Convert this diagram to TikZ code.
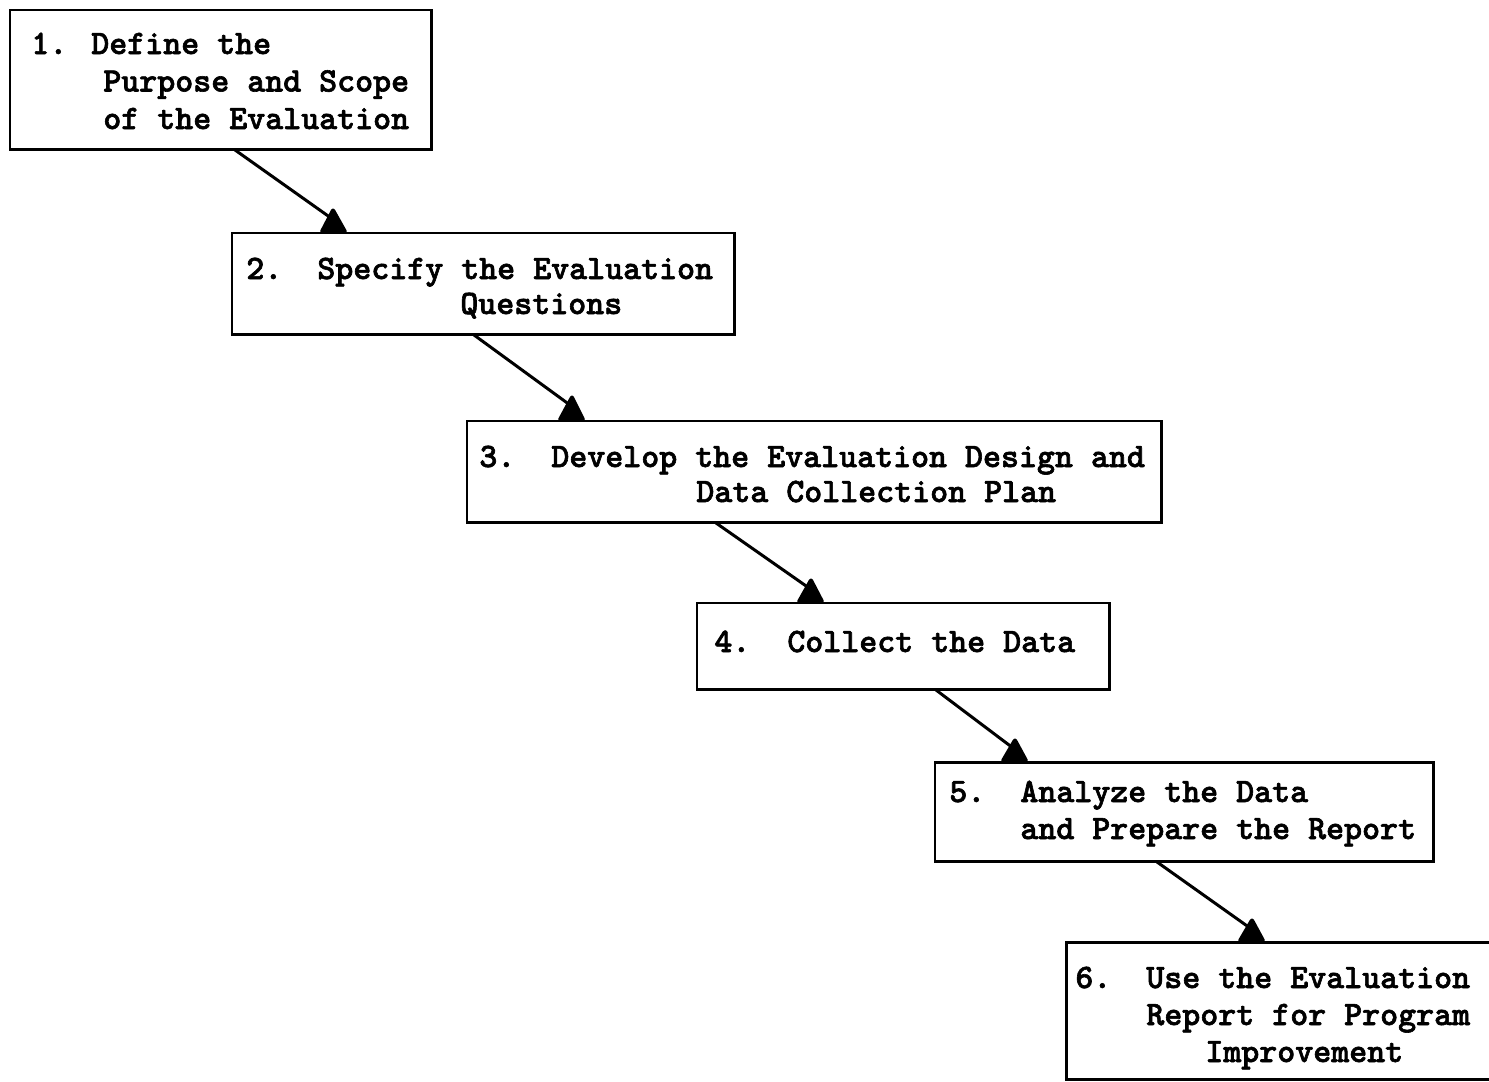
\documentclass[tikz,border=0pt]{standalone}
\usepackage{fontspec}
\usetikzlibrary{calc}
\newcommand{\twfont}{\ttfamily\bfseries\fontsize{19.5}{24}\selectfont}
\newcommand{\heavy}[1]{\special{pdf:literal direct 2 Tr 0.35 w}#1\special{pdf:literal direct 0 Tr}}
\tikzset{
  box/.style={draw, line width=1.7pt, rectangle, inner sep=0pt, outer sep=0pt, anchor=north west},
  lbl/.style={anchor=base west, inner sep=0pt, font=\twfont},
  conn/.style={line width=1.7pt},
  head/.style={fill=black, draw=black, line width=1pt, line join=round, rounded corners=1.5pt}
}
\begin{document}
\begin{tikzpicture}[x=0.02cm, y=-0.02cm]
\useasboundingbox (0,0) rectangle (1489,1082);
\fill[white] (0,0) rectangle (1489,1082);

% boxes
\node[box, minimum width=8.44cm, minimum height=2.8cm] (b1) at (10,10) {};
\node[box, minimum width=10.06cm, minimum height=2.04cm] (b2) at (232,233) {};
\node[box, minimum width=13.9cm, minimum height=2.04cm] (b3) at (467,421) {};
\node[box, minimum width=8.26cm, minimum height=1.74cm] (b4) at (697,603) {};
\node[box, minimum width=9.98cm, minimum height=2.0cm] (b5) at (935,762) {};
\node[box, minimum width=9.0cm, minimum height=2.76cm] (b6) at (1066,942) {};

% texts
\node[lbl] (t1a) at (31,54) {\heavy{1. Define the}};
\node[lbl] (t1b) at (103,91.5) {\heavy{Purpose and Scope}};
\node[lbl] (t1c) at (103,129) {\heavy{of the Evaluation}};

\node[lbl] (t2a) at (246,279) {\heavy{2.}};
\node[lbl] (t2b) at (317,279) {\heavy{Specify the Evaluation}};
\node[lbl] (t2c) at (460,314) {\heavy{Questions}};

\node[lbl] (t3a) at (479,467) {\heavy{3.}};
\node[lbl] (t3b) at (551,467) {\heavy{Develop the Evaluation Design and}};
\node[lbl] (t3c) at (696,502) {\heavy{Data Collection Plan}};

\node[lbl] (t4a) at (714,652) {\heavy{4.}};
\node[lbl] (t4b) at (787,652) {\heavy{Collect the Data}};

\node[lbl] (t5a) at (949,802) {\heavy{5.}};
\node[lbl] (t5b) at (1020,802) {\heavy{Analyze the Data}};
\node[lbl] (t5c) at (1020,839) {\heavy{and Prepare the Report}};

\node[lbl] (t6a) at (1075,988) {\heavy{6.}};
\node[lbl] (t6b) at (1146,988) {\heavy{Use the Evaluation}};
\node[lbl] (t6c) at (1146,1025) {\heavy{Report for Program}};
\node[lbl] (t6d) at (1205,1062) {\heavy{Improvement}};

% connector coordinates
\coordinate (s1) at ($(b1.south west)+(225,0)$);
\coordinate (a1) at ($(b2.north west)+(101,-25)$);
\coordinate (l1) at ($(b2.north west)+(88,0)$);
\coordinate (r1) at ($(b2.north west)+(115,0)$);

\coordinate (s2) at ($(b2.south west)+(242,0)$);
\coordinate (a2) at ($(b3.north west)+(105,-26)$);
\coordinate (l2) at ($(b3.north west)+(91,0)$);
\coordinate (r2) at ($(b3.north west)+(118,0)$);

\coordinate (s3) at ($(b3.south west)+(249,0)$);
\coordinate (a3) at ($(b4.north west)+(114,-25)$);
\coordinate (l3) at ($(b4.north west)+(100,0)$);
\coordinate (r3) at ($(b4.north west)+(127,0)$);

\coordinate (s4) at ($(b4.south west)+(239,0)$);
\coordinate (a4) at ($(b5.north west)+(80,-24)$);
\coordinate (l4) at ($(b5.north west)+(66,0)$);
\coordinate (r4) at ($(b5.north west)+(93,0)$);

\coordinate (s5) at ($(b5.south west)+(222,0)$);
\coordinate (a5) at ($(b6.north west)+(186,-24)$);
\coordinate (l5) at ($(b6.north west)+(172,0)$);
\coordinate (r5) at ($(b6.north west)+(199,0)$);

% connectors
\foreach \i in {1,...,5}{
  \draw[conn] (s\i) -- ($(a\i)+(-2,10)$);
  \draw[head] (l\i) -- (a\i) -- (r\i) -- cycle;
}
\end{tikzpicture}
\end{document}
